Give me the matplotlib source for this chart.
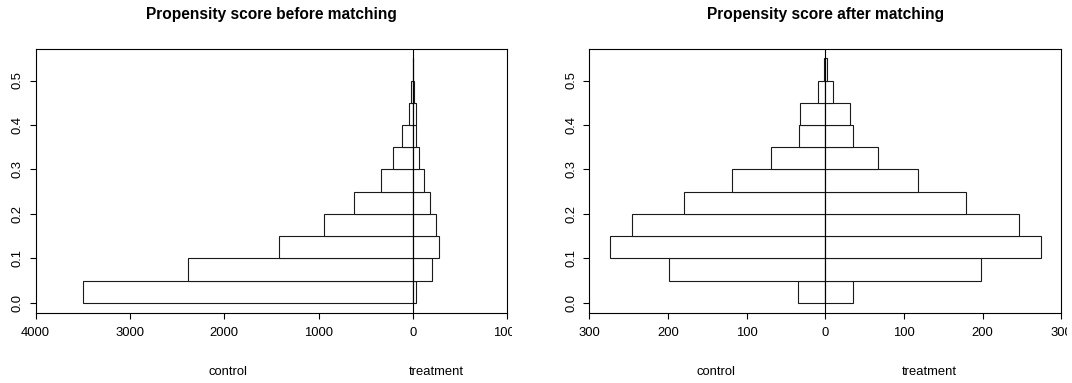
import matplotlib
matplotlib.use("Agg")
import matplotlib.pyplot as plt
from matplotlib.transforms import Bbox, TransformedBbox

plt.rcParams['font.family'] = ['Liberation Sans', 'DejaVu Sans']

# propensity score bins (width 0.05)
bin_lo = [0.00, 0.05, 0.10, 0.15, 0.20, 0.25, 0.30, 0.35, 0.40, 0.45, 0.50]
bin_w = 0.05

# counts before matching
control_before = [3500, 2380, 1420, 945, 628, 343, 213, 119, 43, 20, 2]
treated_before = [35, 198, 274, 246, 179, 118, 67, 35, 31, 10, 2]

# counts after matching
control_after = [35, 199, 274, 246, 179, 118, 69, 34, 32, 9, 2]
treated_after = [35, 198, 274, 246, 179, 118, 67, 35, 31, 10, 2]

W, H = 1072, 383
fig = plt.figure(figsize=(W / 100, H / 100), dpi=100)

panels = [
    dict(title="Propensity score before matching", ctrl=control_before,
         trt=treated_before, xlim=(-4000, 1000),
         xticks=[-4000, -3000, -2000, -1000, 0, 1000],
         x0=35.5, lab_x=(227.6, 436.0), clip_x=512),
    dict(title="Propensity score after matching", ctrl=control_after,
         trt=treated_after, xlim=(-300, 300),
         xticks=[-300, -200, -100, 0, 100, 200, 300],
         x0=589.3, lab_x=(716.0, 929.0), clip_x=1067),
]

top, bottom = 48.5, 312.5
for p in panels:
    ax = fig.add_axes([p["x0"] / W, 1 - bottom / H, 472 / W, (bottom - top) / H])
    # control to the left, treatment to the right
    ax.barh(bin_lo, [-c for c in p["ctrl"]], height=bin_w, align="edge",
            color="white", edgecolor="#1a1a1a", linewidth=0.8)
    ax.barh(bin_lo, p["trt"], height=bin_w, align="edge",
            color="white", edgecolor="#1a1a1a", linewidth=0.8)
    ax.axvline(0, color="black", linewidth=0.8)
    ax.set_xlim(*p["xlim"])
    ax.set_ylim(-0.022, 0.572)
    ax.set_xticks(p["xticks"])
    ax.set_xticklabels([str(abs(v)) for v in p["xticks"]])
    ax.set_yticks([0, 0.1, 0.2, 0.3, 0.4, 0.5])
    ax.set_yticklabels(["0.0", "0.1", "0.2", "0.3", "0.4", "0.5"],
                       rotation=90, va="center")
    ax.tick_params(axis="both", direction="out", length=4.5, width=0.8,
                   labelsize=9.4, colors="black")
    ax.tick_params(axis="x", pad=6)
    ax.tick_params(axis="y", pad=4)
    for s in ax.spines.values():
        s.set_linewidth(0.8)
        s.set_color("black")
    ax.text(0.5, 1 + 33.5 / (bottom - top), p["title"], transform=ax.transAxes,
            ha="center", va="center", fontsize=11.2, fontweight="bold")
    clip = TransformedBbox(Bbox([[0, 0], [p["clip_x"] / W, 1]]), fig.transFigure)
    for t in ax.xaxis.get_major_ticks():
        t.label1.set_clip_on(True)
        t.label1.set_clip_box(clip)
    fig.text(p["lab_x"][0] / W, 1 - 372 / H, "control", ha="center",
             va="center", fontsize=9.4)
    fig.text(p["lab_x"][1] / W, 1 - 372 / H, "treatment", ha="center",
             va="center", fontsize=9.4)

fig.savefig("out.png", dpi=100)
